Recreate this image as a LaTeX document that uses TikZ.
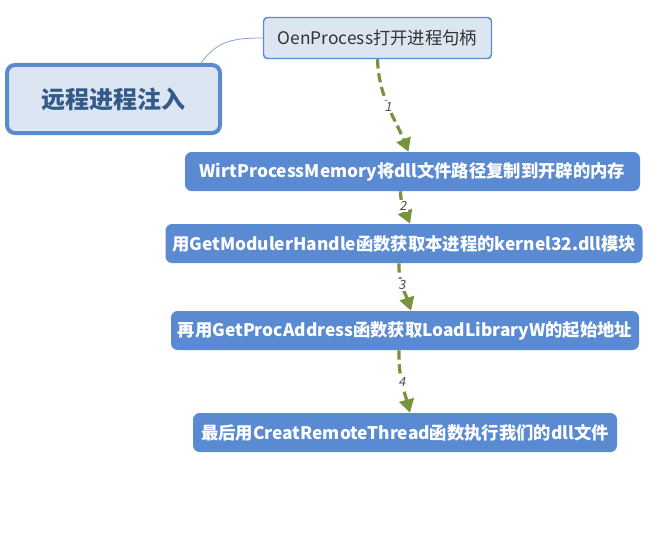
\documentclass[tikz,border=0pt]{standalone}
\usepackage{fontspec}
\setmainfont{Noto Sans CJK SC}
\newfontfamily\numfont[FakeSlant=0.2]{Noto Sans CJK SC}
\usetikzlibrary{arrows.meta,calc}
\definecolor{boxblue}{HTML}{5A8AD2}
\definecolor{lightfill}{HTML}{DCE6F2}
\definecolor{rootborder}{HTML}{5B8BCF}
\definecolor{roottext}{HTML}{345A8A}
\definecolor{arrowgreen}{HTML}{77933C}
\definecolor{linkblue}{HTML}{7FA3CF}
\begin{document}
\begin{tikzpicture}[x=0.75pt,y=-0.75pt,
  rootbox/.style={draw=rootborder,line width=3pt,fill=lightfill,rounded corners=6pt,
    minimum width=213*0.75pt,minimum height=68*0.75pt,inner sep=0pt,
    font=\fontsize{18pt}{21pt}\selectfont\bfseries,text=roottext},
  topicbox/.style={draw=rootborder,line width=1.1pt,fill=lightfill,rounded corners=3pt,
    minimum width=228*0.75pt,minimum height=41*0.75pt,inner sep=0pt,
    font=\fontsize{13pt}{15pt}\selectfont,text=black!80},
  stepbox/.style={fill=boxblue,rounded corners=5pt,minimum height=39*0.75pt,inner sep=0pt,
    font=\fontsize{13pt}{15pt}\selectfont\bfseries,text=white},
  flow/.style={draw=arrowgreen,line width=2.4pt,dash pattern=on 7pt off 3.5pt,
    -{Triangle[length=10pt,width=11pt,fill=arrowgreen]}},
  numlabel/.style={fill=white,inner sep=1pt,font=\fontsize{9.5pt}{11pt}\numfont,text=black!70},
  link/.style={draw=linkblue,line width=0.6pt}
]
\useasboundingbox (0,0) rectangle (656,535);
\node[rootbox] (root) at (113.5,99) {远程进程注入};
\node[topicbox] (open) at (377.5,38) {OenProcess打开进程句柄};
\node[stepbox,minimum width=455*0.75pt] (b1) at (412.5,171.5) {WirtProcessMemory将dll文件路径复制到开辟的内存};
\node[stepbox,minimum width=477*0.75pt] (b2) at (404,243.5) {用GetModulerHandle函数获取本进程的kernel32.dll模块};
\node[stepbox,minimum width=468*0.75pt] (b3) at (405,330.5) {再用GetProcAddress函数获取LoadLibraryW的起始地址};
\node[stepbox,minimum width=424*0.75pt] (b4) at (405,432.5) {最后用CreatRemoteThread函数执行我们的dll文件};

\draw[link] ($(root.north east)+(-21,0)$) .. controls ($(root.north east)+(-5,-22)$) and ($(open.west)+(-30,0)$) .. (open.west);

\draw[flow] (open.south) to[out=-88,in=112] node[numlabel,pos=0.5]{1} ($(b1.north)+(-4,0)$);
\draw[flow] ($(b1.south)+(-12,0)$) to[out=-90,in=112] node[numlabel,pos=0.45]{2} ($(b2.north)+(6,0)$);
\draw[flow] ($(b2.south)+(-5,0)$) to[out=-92,in=108] node[numlabel,pos=0.45]{3} ($(b3.north)+(6,0)$);
\draw[flow] ($(b3.south)+(-6,0)$) to[out=-92,in=105] node[numlabel,pos=0.5]{4} ($(b4.north)+(5,0)$);
\end{tikzpicture}
\end{document}
